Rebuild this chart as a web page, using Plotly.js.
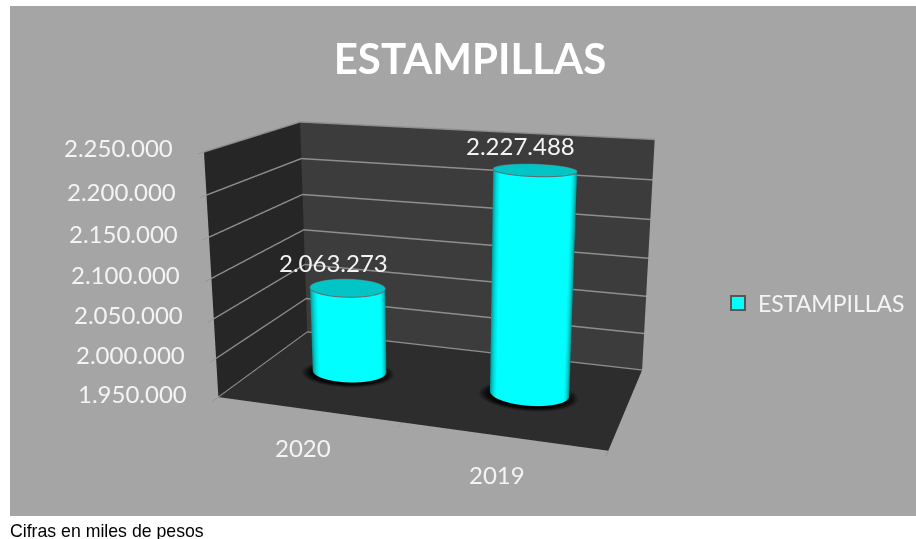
<!DOCTYPE html>
<html><head><meta charset="utf-8">
<script src="https://cdn.plot.ly/plotly-3.0.1.min.js"></script>
<style>html,body{margin:0;padding:0;background:#fff;width:916px;height:539px;overflow:hidden}
#c{position:absolute;left:-263px;top:-182px;width:1400px;height:900px}</style></head>
<body><div id="c"></div>
<script>
const categories=["2020","2019"];
const values=[2063273,2227488];
const seriesName="ESTAMPILLAS";
const zTicks=[1950000,2000000,2050000,2100000,2150000,2200000,2250000];
const zTickText=["1.950.000","2.000.000","2.050.000","2.100.000","2.150.000","2.200.000","2.250.000"];
const zMin=1950000,zMax=2250000;
const xs=categories.map((_,i)=>i);
const W=1400,H=900,OX=263,OY=182;
const px=x=>(x+OX)/W, py=y=>1-(y+OY)/H;
const R=0.205,RY=0.15,N=72;
const aspect={x:1.535,y:0.82,z:0.97};
const eye={x:1.3,y:-3.9,z:1.16};
const Sx=aspect.x/2,Sy=aspect.y;
function wall(cx,cy,z0,z1){
  const X=[],Y=[],Z=[],C=[];
  for(const z of [z0,z1]){const a=[],b=[],c=[],d=[];
    for(let k=0;k<=N;k++){const t=k/N*2*Math.PI;
      const nx=Math.cos(t)/(R*Sx),ny=Math.sin(t)/(RY*Sy),nl=Math.hypot(nx,ny);
      const px3=(cx-0.5)*Sx+R*Sx*Math.cos(t),py3=cy*Sy+RY*Sy*Math.sin(t);
      const vx=eye.x-px3,vy=eye.y-py3,vl=Math.hypot(vx,vy);
      a.push(cx+R*Math.cos(t));b.push(cy+RY*Math.sin(t));c.push(z);d.push(Math.max(0,(nx*vx+ny*vy)/(nl*vl)));}
    X.push(a);Y.push(b);Z.push(c);C.push(d);}
  return {x:X,y:Y,z:Z,surfacecolor:C};
}
function disc(cx,cy,rings,z){
  const X=[],Y=[],Z=[],C=[];
  for(const f of rings){const a=[],b=[],c=[],d=[];
    for(let k=0;k<=N;k++){const t=k/N*2*Math.PI;a.push(cx+f*R*Math.cos(t));b.push(cy+f*RY*Math.sin(t));c.push(z);d.push(f);}
    X.push(a);Y.push(b);Z.push(c);C.push(d);}
  return {x:X,y:Y,z:Z,surfacecolor:C};
}
function rim(cx,cy,z){
  const a=[],b=[],c=[];
  for(let k=0;k<=N;k++){const t=k/N*2*Math.PI;a.push(cx+R*Math.cos(t));b.push(cy+RY*Math.sin(t));c.push(z);}
  return {x:a,y:b,z:c};
}
const flat={ambient:1,diffuse:0,specular:0,roughness:1,fresnel:0};
const traces=[];
xs.forEach((x,i)=>{
  traces.push(Object.assign(disc(x,-0.02,[0,0.95,1.12,1.27],zMin+800),{type:'surface',showscale:false,cmin:0,cmax:1.27,
    colorscale:[[0,'#000'],[0.75,'#000'],[0.88,'#141414'],[1,'#2d2d2d']],lighting:flat,hoverinfo:'skip',showlegend:false}));
  traces.push(Object.assign(wall(x,0,zMin+1600,values[i]),{type:'surface',showscale:false,cmin:0,cmax:1,
    colorscale:[[0,'#007c7c'],[0.3,'#00b0b0'],[0.62,'#00ffff'],[1,'#00ffff']],lighting:flat,hoverinfo:'skip',showlegend:false}));
  traces.push(Object.assign(disc(x,0,[0,1],values[i]),{type:'surface',showscale:false,cmin:0,cmax:1,
    colorscale:[[0,'#00c4c6'],[1,'#00c4c6']],lighting:flat,hoverinfo:'skip',showlegend:false}));
  traces.push(Object.assign(rim(x,0,values[i]),{type:'scatter3d',mode:'lines',line:{color:'#666',width:2},hoverinfo:'skip',showlegend:false}));
});
traces.push({type:'scatter3d',mode:'markers',x:[null],y:[null],z:[null],name:seriesName,showlegend:true,
  marker:{symbol:'square',size:14,color:'#00ffff',line:{color:'#555',width:2}},hoverinfo:'skip'});
const fmt=v=>String(v).replace(/\B(?=(\d{3})+$)/g,'.');
const txt='#f4f4f4';
const dataLabels=xs.map((x,i)=>({x:x,y:0,z:values[i],text:fmt(values[i]),showarrow:false,xshift:-14,yshift:25,font:{family:'Lato',size:24,color:txt}}));
const catLabels=xs.map((x,i)=>({x:x,y:-0.5,z:zMin,text:categories[i],showarrow:false,xshift:-5,yshift:-38,font:{family:'Lato',size:24,color:txt}}));
const zLabels=zTicks.map((v,i)=>({x:-0.5,y:-0.5,z:v,text:zTickText[i],showarrow:false,xanchor:'right',xshift:-29,yshift:4,font:{family:'Lato',size:24,color:txt}}));
const layout={
  width:W,height:H,paper_bgcolor:'#fff',margin:{l:0,r:0,t:0,b:0},
  font:{family:'Lato, sans-serif',color:txt,size:24},
  title:{text:'<b>ESTAMPILLAS</b>',font:{family:'Lato',size:42,color:'#fff'},x:px(470),xanchor:'center',y:py(59),yanchor:'middle'},
  shapes:[{type:'rect',xref:'paper',yref:'paper',x0:px(10),x1:px(916),y0:py(516),y1:py(6),fillcolor:'#a5a5a5',line:{width:0},layer:'below'}],
  showlegend:true,
  legend:{x:px(718),y:py(303),xanchor:'left',yanchor:'middle',bgcolor:'rgba(0,0,0,0)',itemwidth:30,font:{family:'Lato',size:23,color:txt}},
  annotations:[{xref:'paper',yref:'paper',x:px(8),y:py(531),xanchor:'left',yanchor:'middle',showarrow:false,text:'Cifras en miles de pesos',font:{family:'Liberation Sans',size:17.7,color:'#000'}}],
  scene:{
    domain:{x:[0,1],y:[0,1]},
    bgcolor:'rgba(0,0,0,0)',
    aspectmode:'manual',aspectratio:aspect,
    camera:{projection:{type:'perspective'},eye:eye,center:{x:0,y:0,z:0},up:{x:0,y:0,z:1}},
    annotations:[...dataLabels,...catLabels,...zLabels],
    xaxis:{title:{text:''},tickvals:[-0.5,0.5,1.5],range:[-0.5,1.5],showticklabels:false,ticks:'outside',ticklen:6,tickcolor:'#888',showbackground:true,backgroundcolor:'#262626',showgrid:false,zeroline:false,showspikes:false,showline:false},
    yaxis:{title:{text:''},range:[-0.5,0.5],showticklabels:false,ticks:'',showgrid:false,zeroline:false,showbackground:true,backgroundcolor:'#3c3c3c',showspikes:false,showline:false},
    zaxis:{title:{text:''},range:[zMin,zMax],tickvals:zTicks,showticklabels:false,ticks:'outside',ticklen:6,tickcolor:'#888',showbackground:true,backgroundcolor:'#2d2d2d',gridcolor:'#8e8e8e',gridwidth:3,zeroline:false,showspikes:false,showline:false}
  }
};
Plotly.newPlot('c',traces,layout,{displayModeBar:false});
</script></body></html>
